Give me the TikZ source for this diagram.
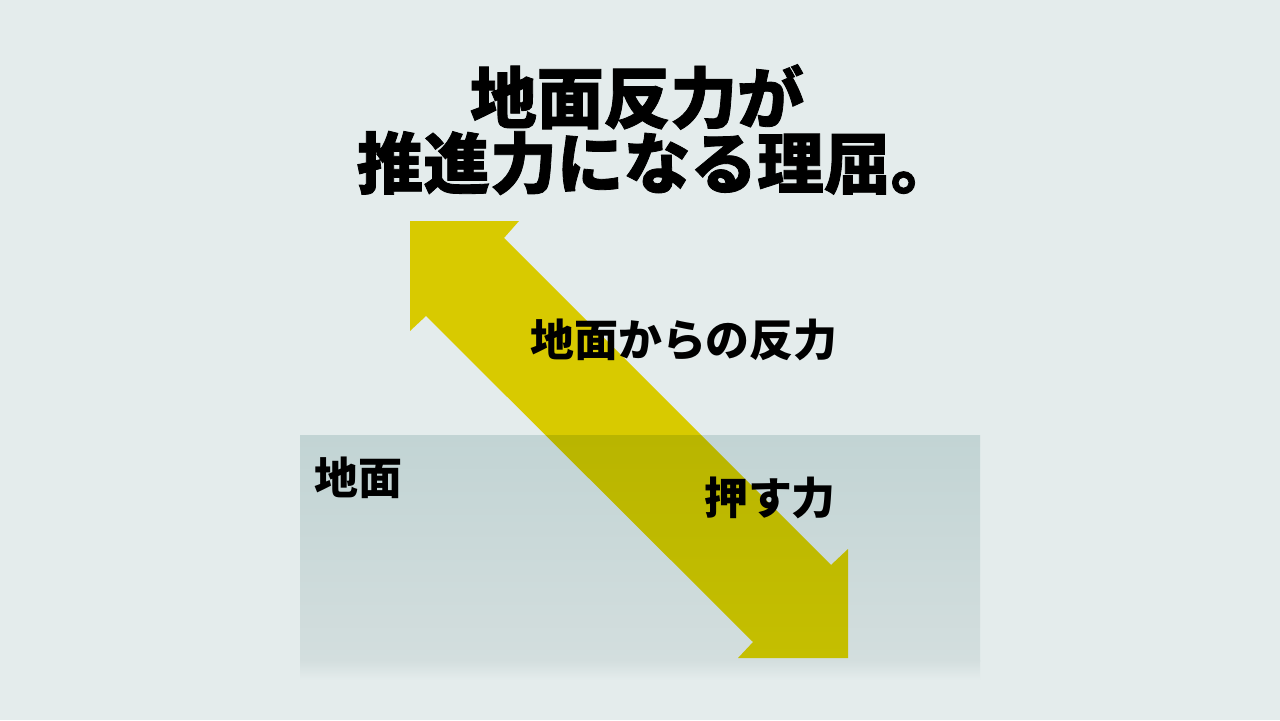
\documentclass[tikz,border=0pt]{standalone}
\usepackage{fontspec}
\setmainfont{Noto Sans CJK JP}
\newfontfamily\heavyfont{Noto Sans CJK JP}[BoldFeatures={FakeBold=1.2}]
\usepackage{tikz}
\usetikzlibrary{positioning}
\usetikzlibrary{calc}
\definecolor{bgcol}{RGB}{228,236,236}
\definecolor{groundtop}{RGB}{194,212,212}
\definecolor{groundbot}{RGB}{211,222,222}
\definecolor{forcecol}{RGB}{216,202,0}
\definecolor{forcetop}{RGB}{185,181,0}
\definecolor{forcebot}{RGB}{197,191,0}
\tikzset{every picture/.style={x=0.02cm,y=-0.02cm}}

\begin{document}
\begin{tikzpicture}[title/.style={font=\heavyfont\fontsize{38}{40}\selectfont\bfseries,inner sep=0pt},lbl/.style={font=\fontsize{25}{28}\selectfont\bfseries,inner sep=0pt}]
\fill[bgcol] (0,0) rectangle (1280,720);
\useasboundingbox (0,0) rectangle (1280,720);
\def\forcepath{(410,221) -- (519,221) -- (504,238) -- (831,565) -- (848,549) -- (848,658) -- (738,658) -- (753,642) -- (426,316) -- (410,331) -- cycle}

\node[title] (title1) at (637,97) {地面反力が};
\node[title] (title2) at (657,163) {推進力になる理屈。};

\fill[forcecol] \forcepath;
\shade[top color=groundtop,bottom color=groundbot] (300,435) rectangle (980,661);
\shade[top color=groundbot,bottom color=bgcol] (300,660) rectangle (980,680);
\begin{scope}
\clip \forcepath;
\shade[top color=forcetop,bottom color=forcebot] (300,435) rectangle (980,660);
\end{scope}

\node[lbl] (reaction) at (684,340) {地面からの反力};
\node[lbl] (ground) at (358,478) {地面};
\node[lbl] (push) at (770,498) {押す力};
\end{tikzpicture}
\end{document}
